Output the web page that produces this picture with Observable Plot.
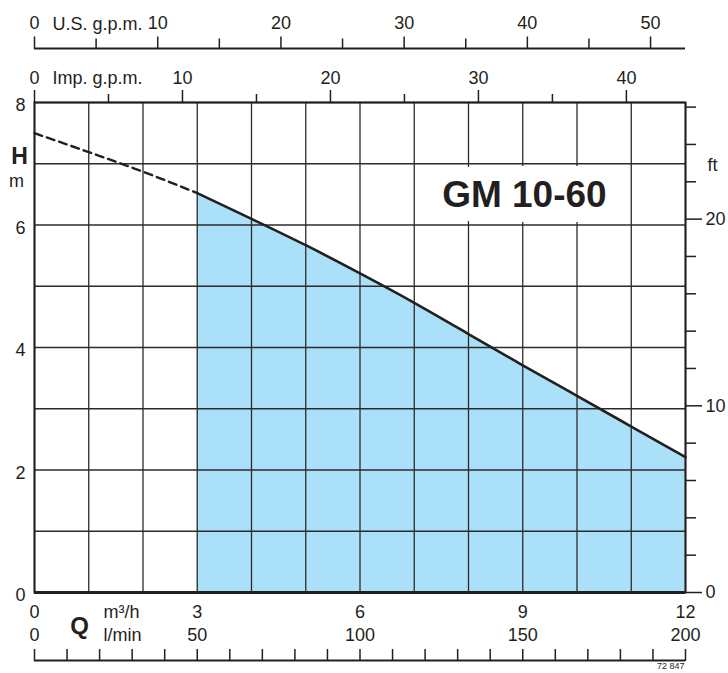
<!DOCTYPE html>
<html><head><meta charset="utf-8">
<script src="https://cdn.jsdelivr.net/npm/d3@7"></script>
<script src="https://cdn.jsdelivr.net/npm/@observablehq/plot@0.6"></script>
<style>html,body{margin:0;padding:0;background:#fff}svg{display:block}</style>
</head><body><div id="chart"></div>
<script>
// Pump curve GM 10-60 : flow Q (m³/h) vs head H (m)
const flowDashed = [0, 1, 2, 3];
const headDashed = [7.50, 7.19, 6.87, 6.52];
const flowSolid = [3, 4, 5, 6, 7, 8, 9, 10, 11, 12];
const headSolid = [6.52, 6.10, 5.67, 5.21, 4.73, 4.22, 3.71, 3.21, 2.71, 2.21];

const gridQ = [0, 1, 2, 3, 4, 5, 6, 7, 8, 9, 10, 11, 12];
const gridH = [0, 1, 2, 3, 4, 5, 6, 7, 8];
const hLabels = [0, 2, 4, 6, 8];
const qLabels = [0, 3, 6, 9, 12];
const lminLabels = [0, 50, 100, 150, 200];
const lminTicks = [0, 10, 20, 30, 40, 50, 60, 70, 80, 90, 100, 110, 120, 130, 140, 150, 160, 170, 180, 190, 200];
const ftLabels = [0, 10, 20];
const ftMinor = [2, 4, 6, 8, 12, 14, 16, 18, 22, 24, 26];
const usLabels = [0, 10, 20, 30, 40, 50];
const usMinor = [5, 15, 25, 35, 45];
const impLabels = [0, 10, 20, 30, 40];
const impMinor = [5, 15, 25, 35];
const title = "GM 10-60";
const titlePos = {q: 9.03, h: 6.48};
const code = "72 847";

const M3H_PER_USGPM = 1 / 4.40287;
const M3H_PER_IMPGPM = 1 / 3.66615;
const M3H_PER_LMIN = 0.06;
const M_PER_FT = 0.3048;

const ink = "#231f20";
const fillBlue = "#abe0f9";
const fs = 18;

const dashed = flowDashed.map((q, i) => ({q, h: headDashed[i]}));
const solid = flowSolid.map((q, i) => ({q, h: headSolid[i]}));

const chart = Plot.plot({
  width: 728,
  height: 673,
  marginLeft: 34,
  marginRight: 43,
  marginTop: 102,
  marginBottom: 81,
  x: {domain: [0, 12]},
  y: {domain: [0, 8]},
  style: {fontFamily: "'Liberation Sans', Arial, Helvetica, sans-serif", color: ink, background: "#fff", overflow: "visible"},
  marks: [
    Plot.areaY(solid, {x: "q", y: "h", fill: fillBlue, curve: "natural"}),
    Plot.gridX(gridQ, {stroke: "#2b2b2b", strokeOpacity: 1, strokeWidth: 1.3}),
    Plot.gridY(gridH, {stroke: "#2b2b2b", strokeOpacity: 1, strokeWidth: 1.3}),
    Plot.text([title], {x: () => titlePos.q, y: () => titlePos.h, text: d => d, fontSize: 37, fontWeight: "bold",
      textAnchor: "middle", lineAnchor: "middle", fill: ink, stroke: "#fff", strokeWidth: 30, strokeLinejoin: "round"}),
    Plot.line(dashed, {x: "q", y: "h", stroke: ink, strokeWidth: 2.4, strokeDasharray: "8,5", curve: "natural"}),
    Plot.line(solid, {x: "q", y: "h", stroke: ink, strokeWidth: 2.6, curve: "natural"}),
    Plot.frame({stroke: ink, strokeWidth: 2}),
    Plot.ruleY([0], {stroke: ink, strokeWidth: 3}),

    // left H axis
    Plot.axisY(hLabels, {anchor: "left", tickSize: 0, tickPadding: 9, dy: 3, fontSize: fs, tickFormat: d => String(d), label: null}),
    Plot.text(["H"], {frameAnchor: "top-left", dx: -15, dy: 54, fontSize: 23, fontWeight: "bold", textAnchor: "middle", lineAnchor: "middle", fill: ink}),
    Plot.text(["m"], {frameAnchor: "top-left", dx: -18, dy: 84, fontSize: fs, textAnchor: "middle", lineAnchor: "bottom", fill: ink}),

    // right ft axis
    Plot.axisY(ftLabels.map(v => v * M_PER_FT), {anchor: "right", tickSize: 16, tickPadding: 4, strokeWidth: 1.5, fontSize: fs,
      tickFormat: d => Math.round(d / M_PER_FT), label: null}),
    Plot.axisY(ftMinor.map(v => v * M_PER_FT), {anchor: "right", tickSize: 10, strokeWidth: 1.5, fill: "none", label: null}),
    Plot.text(["ft"], {frameAnchor: "top-right", dx: 22, dy: 68, fontSize: fs, textAnchor: "start", lineAnchor: "bottom", fill: ink}),

    // top Imp. g.p.m. axis
    Plot.axisX(impLabels.map(v => v * M3H_PER_IMPGPM), {anchor: "top", tickSize: 13, tickPadding: 6, strokeWidth: 1.5, fontSize: fs,
      tickFormat: d => Math.round(d / M3H_PER_IMPGPM), label: null}),
    Plot.axisX(impMinor.map(v => v * M3H_PER_IMPGPM), {anchor: "top", tickSize: 9, strokeWidth: 1.5, fill: "none", label: null}),
    Plot.text(["Imp. g.p.m."], {frameAnchor: "top-left", dx: 18, dy: -19, fontSize: fs, textAnchor: "start", lineAnchor: "bottom", fill: ink}),

    // top U.S. g.p.m. axis
    Plot.ruleY([8], {dy: -54, stroke: ink, strokeWidth: 2.2}),
    Plot.axisX(usLabels.map(v => v * M3H_PER_USGPM), {anchor: "top", dy: -54, tickSize: 12.5, tickPadding: 7, strokeWidth: 1.5, fontSize: fs,
      tickFormat: d => Math.round(d / M3H_PER_USGPM), label: null}),
    Plot.axisX(usMinor.map(v => v * M3H_PER_USGPM), {anchor: "top", dy: -54, tickSize: 10.5, strokeWidth: 1.5, fill: "none", label: null}),
    Plot.text(["U.S. g.p.m."], {frameAnchor: "top-left", dx: 18, dy: -73, fontSize: fs, textAnchor: "start", lineAnchor: "bottom", fill: ink}),

    // bottom m³/h labels
    Plot.axisX(qLabels, {anchor: "bottom", tickSize: 0, tickPadding: 13, fontSize: fs, label: null}),
    Plot.text(["m³/h"], {frameAnchor: "bottom-left", dx: 69, dy: 13, fontSize: fs, textAnchor: "start", lineAnchor: "top", fill: ink}),
    Plot.text(["Q"], {frameAnchor: "bottom-left", dx: 45, dy: 34, fontSize: 24, fontWeight: "bold", textAnchor: "middle", lineAnchor: "middle", fill: ink}),

    // bottom l/min axis
    Plot.axisX(lminLabels.map(v => v * M3H_PER_LMIN), {anchor: "bottom", tickSize: 0, tickPadding: 36, fontSize: fs,
      tickFormat: d => Math.round(d / M3H_PER_LMIN), label: null}),
    Plot.text(["l/min"], {frameAnchor: "bottom-left", dx: 69, dy: 36, fontSize: fs, textAnchor: "start", lineAnchor: "top", fill: ink}),
    Plot.ruleY([0], {dy: 68, stroke: ink, strokeWidth: 2}),
    Plot.axisX(lminTicks.map(v => v * M3H_PER_LMIN), {anchor: "top", dy: 558, tickSize: 12, strokeWidth: 1.5, fill: "none", label: null}),

    Plot.text([code], {frameAnchor: "bottom-right", dx: -1, dy: 70, fontSize: 9, textAnchor: "end", lineAnchor: "top", fill: ink})
  ]
});
document.getElementById("chart").appendChild(chart);
</script>
</body></html>
